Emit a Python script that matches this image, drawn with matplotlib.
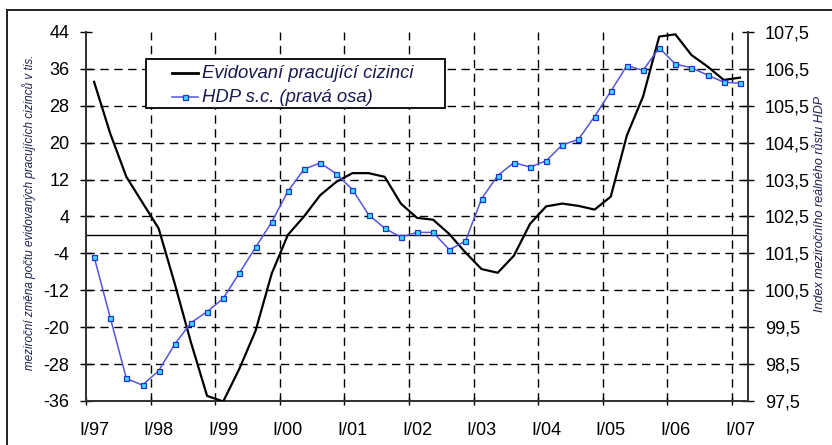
import matplotlib
matplotlib.use("Agg")
import matplotlib.pyplot as plt
from matplotlib.patches import Rectangle
from matplotlib.lines import Line2D
import numpy as np

plt.rcParams['font.family'] = ['Liberation Sans', 'DejaVu Sans']

# Quarterly categories I/97 .. I/07
quarters = ["I/97", "II/97", "III/97", "IV/97", "I/98", "II/98", "III/98", "IV/98",
            "I/99", "II/99", "III/99", "IV/99", "I/00", "II/00", "III/00", "IV/00",
            "I/01", "II/01", "III/01", "IV/01", "I/02", "II/02", "III/02", "IV/02",
            "I/03", "II/03", "III/03", "IV/03", "I/04", "II/04", "III/04", "IV/04",
            "I/05", "II/05", "III/05", "IV/05", "I/06", "II/06", "III/06", "IV/06",
            "I/07"]

cizinci = [33.2, 22.0, 12.6, 7.0, 1.4, -10.6, -23.3, -34.9, -36.1, -29.0,
           -20.8, -8.4, 0.0, 4.0, 8.6, 11.5, 13.4, 13.4, 12.6, 6.8,
           3.7, 3.3, 0.2, -3.8, -7.4, -8.2, -4.5, 2.4, 6.2, 6.8,
           6.3, 5.5, 8.3, 21.6, 30.0, 43.0, 43.5, 39.0, 36.5, 33.6,
           34.1]

hdp = [101.41, 99.76, 98.11, 97.93, 98.32, 99.04, 99.62, 99.92, 100.28, 100.97,
       101.66, 102.35, 103.18, 103.78, 103.95, 103.66, 103.23, 102.55, 102.18, 101.94,
       102.07, 102.07, 101.60, 101.83, 102.98, 103.61, 103.96, 103.84, 104.01, 104.44,
       104.59, 105.21, 105.89, 106.59, 106.46, 107.07, 106.63, 106.53, 106.33, 106.14,
       106.11]

left_ticks = [44, 36, 28, 20, 12, 4, -4, -12, -20, -28, -36]
right_ticks = [107.5, 106.5, 105.5, 104.5, 103.5, 102.5, 101.5, 100.5, 99.5, 98.5, 97.5]
right_labels = ["107,5", "106,5", "105,5", "104,5", "103,5", "102,5", "101,5",
                "100,5", "99,5", "98,5", "97,5"]
year_labels = ["I/97", "I/98", "I/99", "I/00", "I/01", "I/02", "I/03", "I/04",
               "I/05", "I/06", "I/07"]

label1 = "Evidovaní pracující cizinci"
label2 = "HDP s.c. (pravá osa)"
ylabel_left = "meziroční změna počtu evidovaných pracujících cizinců v tis."
ylabel_right = "Index meziročního reálného růstu HDP"

BLUE = '#5555DD'
MFACE = '#40D8FF'
MEDGE = '#2233CC'

W, H = 832, 445
fig = plt.figure(figsize=(W / 100, H / 100), dpi=100)
fig.patch.set_facecolor('white')

def fx(px):
    return px / W

def fy(py):
    return 1 - py / H

# outer frame
fig.patches.append(Rectangle((fx(7), -0.05), 1.1, fy(10) + 0.05,
                             transform=fig.transFigure, fill=False,
                             edgecolor='#222222', linewidth=1.4))

ax = fig.add_axes([fx(86), fy(401), (748 - 86) / W, (401 - 32) / H])
ax2 = ax.twinx()
ax.set_zorder(ax2.get_zorder() + 1)
ax.patch.set_visible(False)

x = np.arange(len(quarters))
ax.set_xlim(-0.5, len(quarters) - 0.5)
ax.set_ylim(-36, 44)
ax2.set_ylim(97.5, 107.5)

grid_kw = dict(color='black', linewidth=1.0, linestyle=(0, (6, 4)), zorder=0)
for v in left_ticks[1:-1]:
    ax.axhline(v, **grid_kw)
for k in range(1, 11):
    ax.axvline(4 * k - 0.5, **grid_kw)
ax.axhline(0, color='black', linewidth=1.0, zorder=1)

l1, = ax.plot(x, cizinci, color='black', linewidth=1.6, zorder=3)
# HDP drawn on right scale (mapped to left axis units: 102 <-> 0, 1 unit = 8)
l2, = ax.plot(x, [(h - 102.0) * 8 for h in hdp], color=BLUE, linewidth=1.1,
              marker='s', markersize=3.6, markerfacecolor=MFACE,
              markeredgecolor=MEDGE, markeredgewidth=0.9, zorder=4)

ax.set_yticks(left_ticks)
ax.set_yticklabels([str(t) for t in left_ticks])
ax2.set_yticks(right_ticks)
ax2.set_yticklabels(right_labels)
ax.set_xticks(np.arange(0, len(quarters), 4))
ax.set_xticklabels(year_labels)
ax.set_xticks(np.arange(-0.5, len(quarters), 4), minor=True)

ax.tick_params(axis='y', which='major', direction='inout', length=8, width=1,
               labelsize=13, pad=8, colors='black')
ax2.tick_params(axis='y', which='major', direction='inout', length=8, width=1,
                labelsize=13, pad=8, colors='black')
ax.tick_params(axis='x', which='major', length=0, labelsize=13, pad=15)
ax.tick_params(axis='x', which='minor', direction='inout', length=6, width=1)

for a in (ax, ax2):
    a.spines['top'].set_visible(False)
    for s in ('left', 'right', 'bottom'):
        a.spines[s].set_linewidth(1.3)
        a.spines[s].set_color('#333333')

fig.text(fx(29), fy(212), ylabel_left, rotation=90, ha='center', va='center',
         fontsize=8.4, style='italic', color='#202050')
fig.text(fx(820), fy(204), ylabel_right, rotation=90, ha='center', va='center',
         fontsize=9.0, style='italic', color='#202050')

# legend box drawn manually to match Excel layout
fig.patches.append(Rectangle((fx(146), fy(108)), (445 - 146) / W, (108 - 59) / H,
                             transform=fig.transFigure, facecolor='white',
                             edgecolor='black', linewidth=1.3, zorder=10))
for yy, lab, is_hdp in ((73, label1, False), (97, label2, True)):
    if is_hdp:
        fig.add_artist(Line2D([fx(172), fx(198)], [fy(yy), fy(yy)], color=BLUE,
                              linewidth=1.1, transform=fig.transFigure, zorder=11))
        fig.add_artist(Line2D([fx(185)], [fy(yy)], marker='s', markersize=3.6,
                              markerfacecolor=MFACE, markeredgecolor=MEDGE,
                              markeredgewidth=0.9, linestyle='none',
                              transform=fig.transFigure, zorder=12))
    else:
        fig.add_artist(Line2D([fx(172), fx(198)], [fy(yy), fy(yy)], color='black',
                              linewidth=2.0, transform=fig.transFigure, zorder=11))
    fig.text(fx(202), fy(yy), lab, ha='left', va='center', fontsize=13.3,
             style='italic', color='#1a1a50', zorder=12)

fig.savefig('out.png', dpi=100, facecolor='white')
